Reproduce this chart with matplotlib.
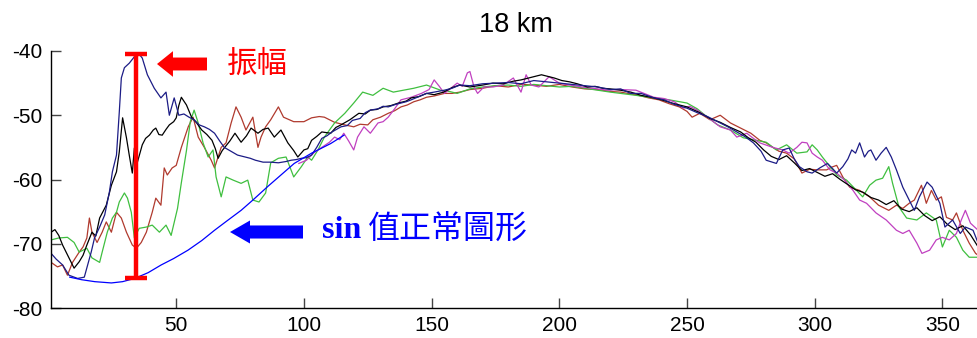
import matplotlib
matplotlib.use("Agg")
import matplotlib.pyplot as plt

# ---------------- data ----------------
title_text = "18 km"
x_ticks = [50, 100, 150, 200, 250, 300, 350]
y_ticks = [-80, -70, -60, -50, -40]

navy_x = [1, 3, 5.5, 8, 11.4, 14, 15.3, 16.7, 18, 20, 22, 23.8, 25, 26.6, 27.7, 28.5, 29.7, 31.6, 33.6, 35.5,
          36.7, 38.7, 41.4, 44, 46, 47.3, 49.2, 51, 53, 55, 57, 59, 61, 63, 65, 67, 68.8, 71, 74, 76, 79, 81,
          84, 87, 90, 93, 95, 97, 99, 101, 103, 105, 107, 109, 111, 114.5, 117, 119, 122, 124, 126, 129, 131,
          133, 136, 138, 140, 142, 145, 148, 151, 155, 158, 161, 165, 170, 175, 180, 185, 190, 195, 200, 205,
          210, 215, 220, 224, 228, 232, 237, 241, 245, 250, 254, 258, 263, 266, 269.5, 273, 276, 279, 281, 285,
          287.5, 290, 292, 294, 297, 299, 302, 305, 307, 308.6, 311, 313, 314.5, 316, 317.6, 319.5, 321, 322,
          324, 326, 328, 330, 332, 334.5, 337, 339, 341, 344, 346, 349, 351, 354, 357, 359, 362, 364]
navy_y = [-71.5, -72.4, -73.3, -74.9, -75.4, -75.2, -73.3, -71.3, -69.1, -67.4, -65.5, -62, -58.8, -56.2, -49.5,
          -44.2, -42.6, -41.9, -40.9, -40.5, -41.1, -43.7, -45.8, -47.3, -46.4, -50, -47.3, -50, -49.8, -50.3,
          -50.7, -51.5, -51.8, -52.2, -52.8, -54, -55, -55.5, -56.2, -56.4, -56.7, -57, -57.3, -57.3, -57.4,
          -57.2, -57, -56.9, -56.7, -56.6, -56.2, -55, -53.6, -53.2, -52.6, -51.8, -51.6, -50.8, -50.5, -49.6,
          -49.2, -49, -48.6, -48.7, -48.3, -48.1, -47.9, -47.6, -47.1, -46.6, -46.4, -46.1, -45.8, -45.3, -45.4,
          -45.1, -45, -44.9, -45.1, -44.6, -44.8, -45, -45.2, -45.4, -45.6, -46, -45.9, -46.6, -46.6, -47.3,
          -47.6, -48.3, -48.9, -49.6, -50.2, -51.2, -51.8, -52.6, -53.4, -54.3, -55.6, -57, -57.5, -55.4, -55.1,
          -56.8, -58, -58.8, -59, -58.2, -57.5, -58.3, -59, -58, -56.8, -55.4, -55.9, -54.3, -56.5, -55.6,
          -55.4, -57, -55.9, -55, -56.5, -58.5, -61.2, -63.2, -64.8, -62.7, -60.4, -61.2, -63.7, -67.4, -66.3,
          -68.4, -67.4, -67.9, -69.9]

black_x = [1, 2.5, 4, 5.5, 8, 10, 12, 13.5, 15, 17, 18.5, 20, 22.6, 24.6, 26.6, 27.7, 29, 30.5, 31.6, 32.8,
           33.6, 34.8, 36.7, 38, 39.5, 41, 42, 43.2, 44.5, 46, 47.3, 49, 50, 51, 52, 54, 56, 58, 60, 62, 64,
           65.3, 66.4, 68, 69, 71, 73, 75.4, 77.5, 79.3, 82, 84, 86, 88.4, 91, 93.7, 96, 97.6, 100, 101.5, 103,
           105, 107, 110.5, 112.5, 114.5, 118, 121.5, 124, 126, 128.5, 131, 134, 137, 140, 142, 145, 148, 151,
           154.7, 158, 161, 165, 170, 174, 178, 182, 185, 189, 193, 196, 198, 201, 204, 207, 211, 214, 217,
           220, 224, 228, 232, 236, 240, 245, 250, 255, 259, 263, 267, 271, 274, 277, 280, 283, 286, 289, 292,
           295, 298, 301, 304, 307, 310, 313, 316, 319, 322, 325, 328, 331, 334, 337, 340, 343, 346, 349, 352,
           355, 358, 361, 364]
black_y = [-68.2, -67.8, -68.7, -70.2, -72.2, -73.8, -72.8, -71.8, -70.2, -68.2, -68.8, -66, -64, -60.9, -58.8,
           -55.7, -50.4, -53.5, -56.2, -59, -55.1, -57.3, -54.6, -53.6, -53.1, -52.3, -52, -53, -53.1, -52.2,
           -51.5, -51, -50.4, -48.5, -47.2, -48.4, -50.3, -51.2, -52.3, -53, -53.9, -55.2, -56.7, -55.5, -55,
           -54, -52.8, -54.2, -53.2, -52, -52.8, -52.2, -52, -53.4, -52.3, -54.3, -55.5, -56.5, -55.4, -55.2,
           -53.9, -53.3, -52.6, -52.8, -51.9, -51.5, -50.7, -49.7, -49.8, -49.2, -49.1, -48.7, -48.5, -48.1,
           -47.8, -47.3, -47.1, -46.6, -46.8, -46.4, -45.7, -45.3, -45.6, -45.3, -45, -45.1, -44.7, -44.5,
           -44.1, -43.7, -44, -44.2, -44.6, -44.8, -45.1, -45.6, -45.5, -45.8, -45.9, -46.1, -46.4, -46.9,
           -47.2, -47.6, -48.2, -48.7, -49.6, -50.5, -51.1, -51.9, -52.6, -53.5, -54.2, -55.4, -56.4, -56.9,
           -56.3, -57.4, -58.6, -58.3, -58.9, -59.5, -59.1, -60, -60.8, -61.6, -62, -62.8, -63.2, -63.9, -63.3,
           -64.6, -65, -64.4, -65.6, -66.4, -65.8, -67, -67.8, -67.2, -68.6, -70.5]

red_x = [1, 3.5, 5.5, 7.4, 9.4, 12, 13.5, 15, 16, 17, 19, 21, 22.6, 24.6, 26.6, 28.5, 30.5, 32.8, 34.4, 36.3,
         38.3, 40.6, 42, 44, 45.3, 46.5, 48.4, 50, 52, 54.7, 56.6, 58.6, 61, 63.7, 65, 67.6, 69.5, 71.5, 73.4,
         75.4, 77.3, 80, 82, 83.2, 85, 87, 90, 92, 96, 100, 103, 106, 108, 112, 116, 119.5, 122, 125, 127,
         130, 133, 135.5, 138, 140.5, 143, 145.5, 148, 151, 155, 158, 161, 165, 170, 175, 180, 185, 190, 195,
         200, 205, 210, 215, 220, 224, 231, 235, 239, 243, 247, 250, 252, 255, 259, 263, 267, 271, 275, 278.5,
         281, 283.6, 286, 289, 292, 295, 298, 300.8, 304.7, 306.5, 308.6, 311, 313.7, 317.6, 321.5, 325, 329,
         332, 334.5, 337, 339, 341.8, 343.7, 345.7, 347.6, 349.6, 351.6, 354, 355.5, 358, 360.5, 363, 364]
red_y = [-72.9, -73.6, -73.3, -74.9, -72.9, -71.3, -70.5, -69.1, -66, -68.2, -69.8, -68.2, -66.6, -68.2, -65.1,
         -66, -68.2, -70.2, -70.7, -69.8, -68.2, -65.1, -62.9, -64, -58.2, -59.3, -58.2, -57.8, -55, -51.8,
         -50.3, -53.4, -55, -57, -58.2, -55, -54.3, -51.2, -48.7, -50.3, -52.3, -50.3, -55, -53.4, -51.8,
         -50.7, -48.7, -50.3, -51, -51, -50.4, -50.2, -50.3, -51.1, -51.5, -51.8, -51.4, -51.5, -50.7, -50.3,
         -49.7, -49.3, -48.7, -48.4, -47.9, -47.6, -47.2, -47, -46.6, -46.6, -46.4, -46, -45.8, -45.4, -45.6,
         -45.2, -45.3, -45.5, -45.2, -45.6, -45.9, -46, -46.3, -46.4, -46.9, -47.3, -47.6, -48.2, -48.7, -49.4,
         -50.3, -49.7, -50.7, -50, -51.2, -52, -52.8, -53.9, -54.3, -55, -55.6, -55.9, -56.8, -59, -58.4,
         -58.5, -58.5, -58.1, -57.8, -59.6, -61.2, -61.7, -62.7, -64, -64.8, -64, -64.5, -63.7, -63.2, -60.9,
         -63.7, -61.7, -63.2, -62.7, -65.9, -66.3, -65.2, -67.9, -69.9, -71.5, -71.8]

green_x = [1, 4, 7.4, 10, 12, 15, 17, 20, 21, 23, 25, 26.6, 27.7, 29.7, 30.9, 32.4, 33.6, 35.5, 38.3, 40.6,
           43.4, 46, 48, 50.5, 52, 54, 55.5, 57, 58.6, 60.5, 62.5, 64.4, 65.6, 67.6, 69.5, 72.3, 75.4, 78, 80,
           82.4, 85, 87, 90, 93, 96, 99, 101.5, 103, 105.5, 108, 112, 116, 119.5, 123, 127, 131, 135, 139, 143,
           148, 153.5, 157, 160, 165, 170, 175, 180, 185, 190, 195, 200, 205, 210, 215, 220, 224, 230, 237,
           243, 250, 254, 258, 262, 267, 272, 277, 281, 285, 289, 293, 297, 299, 301, 303, 305, 308.6, 312.5,
           316.4, 318.8, 321.5, 324, 326.6, 329, 330.5, 333, 336, 340, 343.7, 347.6, 350, 352.7, 355.5, 358,
           360.5, 364]
green_y = [-69.4, -69.1, -69, -69.8, -71.3, -70.7, -72.2, -72.9, -71.3, -68.2, -66, -65.1, -63.5, -62.1, -62.9,
           -65.1, -69.1, -67.6, -67.4, -67.1, -68.2, -67.1, -68.7, -64.5, -60.5, -55.5, -51, -49.2, -51.2,
           -54.3, -56.5, -55.4, -59.6, -62.7, -59.6, -60.1, -60.6, -60.1, -63.2, -63.5, -62.1, -57.4, -56.7,
           -56.5, -59.6, -58, -56.5, -57, -55.4, -53.4, -51.2, -49.7, -48.1, -46.4, -46.9, -45.8, -46.4, -46.1,
           -45.8, -45.3, -46.1, -46.3, -46.6, -45.9, -45.6, -45.4, -45.3, -45.5, -45.2, -45.4, -45.6, -45.5,
           -45.8, -46.1, -46.4, -46.6, -46.9, -47.3, -47.6, -48.1, -49, -50.3, -51.5, -52.3, -53.5, -53.9,
           -54.2, -55.4, -54.6, -55.9, -55.7, -54.6, -55.4, -56.5, -57.5, -59.3, -60.1, -61.7, -62.7, -60.9,
           -60.1, -59.8, -58, -60.6, -64.3, -66, -66.3, -65.2, -66.3, -70.5, -67.9, -69, -71, -72.1, -72.1]

magenta_x = [98, 101, 104, 107, 110, 112, 114, 115.6, 117.5, 119.5, 121, 123.5, 126, 129, 131, 133, 135.5, 138,
             142, 146, 149, 151, 153, 155, 157.5, 160, 162, 164, 165, 166.6, 168, 170.5, 174, 178, 182, 185,
             187, 189, 192, 196, 200, 204, 209, 213, 219, 224, 230, 237, 241, 245, 248.5, 251, 254, 258, 263,
             267, 269.5, 273.4, 276, 278.5, 283.6, 287.5, 290, 293, 295, 297, 299, 301, 303, 306, 308.6, 311.7,
             315, 317.6, 320.3, 324, 328, 332, 334.5, 337, 340, 342, 345, 347.6, 350, 352.7, 355.5, 357.4, 359,
             361, 364]
magenta_y = [-57.5, -57, -55.8, -55, -54.2, -53.4, -53.8, -52.8, -54, -55.4, -53.4, -51.8, -52.8, -51.2, -51,
             -50.3, -49, -47.6, -47.2, -46.6, -46, -44.5, -45.5, -46.6, -45.8, -45, -45.5, -43.4, -43.2, -45.6,
             -46.6, -45.6, -45.6, -45.3, -44.2, -46.4, -43.7, -45.3, -45.6, -44, -45, -45.3, -45.6, -45.8, -46.1,
             -46, -46.1, -47.2, -47.4, -47.9, -48.9, -48.6, -49.2, -50.3, -51.8, -52.3, -53.4, -52.8, -53.6,
             -54.3, -55, -55.4, -55.9, -55, -54.2, -54.3, -55.9, -56.5, -57, -58.5, -59, -60.1, -61.7, -63.2,
             -63.7, -65.2, -66.3, -67.9, -68.4, -67.9, -69.9, -71.5, -71, -69.4, -69, -69.4, -68.4, -66.3, -64.8,
             -66.8, -67.9]

sine_x = [8.3, 13, 18.1, 24.6, 29, 33.7, 39, 44.1, 49, 54.6, 60, 65, 70, 75.4, 80, 85.8, 91, 96.2, 103, 110.5, 115.7]
sine_y = [-75.2, -75.6, -75.9, -76.1, -75.9, -75.4, -74.5, -73.3, -72.3, -71.0, -69.5, -67.9, -66.4, -64.8,
          -63.2, -61.1, -59.3, -57.5, -55.9, -54.4, -53.1]

# amplitude bar (x position, top, bottom) and labels
amp_x = 34.4
amp_top = -40.5
amp_bottom = -75.4
amp_label = "振幅"
sine_label_a = "sin"
sine_label_b = "值正常圖形"

# ---------------- figure ----------------
W, H = 978, 338
fig = plt.figure(figsize=(W / 100, H / 100), dpi=100)
ax_left, ax_right, ax_top, ax_bottom = 51.1, 980.7, 51, 308
ax = fig.add_axes([ax_left / W, (H - ax_bottom) / H, (ax_right - ax_left) / W, (ax_bottom - ax_top) / H])

lw = 0.9
ax.plot(red_x, red_y, color="#b03a2e", lw=lw)
ax.plot(green_x, green_y, color="#3fbf3f", lw=lw)
ax.plot(magenta_x, magenta_y, color="#c040c0", lw=lw)
ax.plot(black_x, black_y, color="#000000", lw=lw)
ax.plot(navy_x, navy_y, color="#1c1c86", lw=lw)
ax.plot(sine_x, sine_y, color="#0000ff", lw=lw)

ax.set_xlim(1, 365)
ax.set_ylim(-80, -40)
ax.set_xticks(x_ticks)
ax.set_yticks(y_ticks)
ax.set_xticklabels([str(t) for t in x_ticks], fontfamily="Liberation Sans", fontsize=15)
ax.set_yticklabels([str(t) for t in y_ticks], fontfamily="Liberation Sans", fontsize=15)
ax.tick_params(direction="in", length=7, width=1, color="#444444", pad=6)
for s in ("top", "right"):
    ax.spines[s].set_visible(False)
for s in ("left", "bottom"):
    ax.spines[s].set_linewidth(1.0)
ax.set_title(title_text, fontfamily="Liberation Sans", fontsize=19.5, pad=13.5)

# amplitude bar
bar_kw = dict(color="#ff0000", lw=3.2, solid_capstyle="butt", clip_on=False)
ax.plot([amp_x, amp_x], [amp_top, amp_bottom], **bar_kw)
cap = 4.3
ax.plot([amp_x - cap, amp_x + cap], [amp_top, amp_top], **bar_kw)
ax.plot([amp_x - cap, amp_x + cap], [amp_bottom, amp_bottom], **bar_kw)

# arrows (figure pixel coordinates, origin bottom-left)
def arrow(tip, tail, hl, hw, tw, color):
    ax.annotate("", xy=tip, xytext=tail, xycoords="figure pixels", textcoords="figure pixels",
                arrowprops=dict(arrowstyle=f"simple,head_length={hl},head_width={hw},tail_width={tw}",
                                color=color, shrinkA=0, shrinkB=0, mutation_scale=1, lw=0))

arrow((157, H - 64), (207, H - 64), 11.5, 18.5, 9.3, "#ff0000")
arrow((230, H - 232), (303, H - 232), 14.4, 16.6, 9.4, "#0000ff")

fig.text(227 / W, (H - 64) / H, amp_label, color="#ff0000", fontsize=22,
         family=["Noto Sans CJK TC", "DejaVu Sans"], va="center", ha="left")
fig.text(322 / W, (H - 231) / H, sine_label_a, color="#0000ff", fontsize=23,
         family="Liberation Serif", fontweight="bold", va="center", ha="left")
fig.text(368 / W, (H - 230) / H, sine_label_b, color="#0000ff", fontsize=23,
         family=["Noto Sans CJK TC", "DejaVu Sans"], va="center", ha="left")

fig.savefig("out.png", dpi=100)
